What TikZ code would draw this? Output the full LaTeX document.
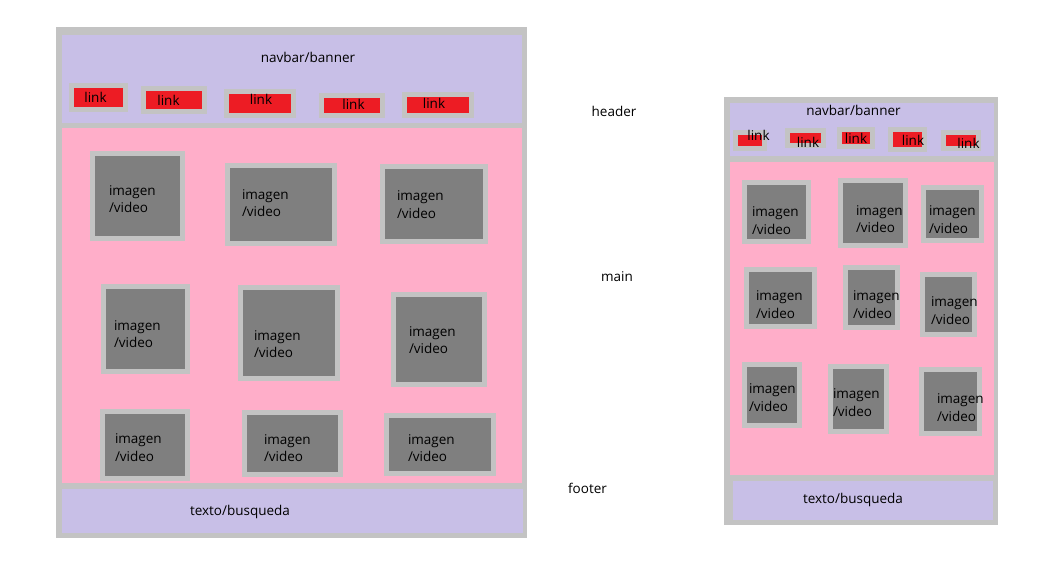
\documentclass[tikz,border=0pt]{standalone}
\usepackage{fontspec}
\setmainfont{Open Sans}
\definecolor{framegrey}{HTML}{C3C3C3}
\definecolor{lavender}{HTML}{C8BFE7}
\definecolor{pinkarea}{HTML}{FFAEC9}
\definecolor{imggrey}{HTML}{7F7F7F}
\definecolor{linkred}{HTML}{ED1C24}
\tikzset{
  txt/.style={inner sep=0pt,outer sep=0pt,text=black,font=\fontsize{13.5}{17.5}\selectfont},
  imgbox/.style={rectangle,fill=imggrey,draw=framegrey,line width=5pt,inner sep=0pt,outer sep=0pt},
  linkbox/.style={rectangle,fill=linkred,draw=framegrey,line width=5pt,inner sep=0pt,outer sep=0pt},
  imgtext/.style={txt,anchor=west,align=left},
}
\begin{document}
\begin{tikzpicture}[x=1pt,y=-1pt]
\useasboundingbox (0,0) rectangle (1059,560);

% wide layout
\fill[framegrey] (56,27) rectangle (527,538);
\fill[lavender] (62,35) rectangle (522,123);
\fill[pinkarea] (62,128) rectangle (522,483);
\fill[lavender] (62,489) rectangle (523,533);

\node[txt] (nav) at (308,57) {navbar/banner};
\node[txt] (foot) at (240,512) {texto/busqueda};

\node[linkbox,minimum width=54,minimum height=24] (l1) at (98.5,97.5) {};
\node[linkbox,minimum width=61,minimum height=23] (l2) at (174,100) {};
\node[linkbox,minimum width=67,minimum height=24] (l3) at (260,103.5) {};
\node[linkbox,minimum width=61,minimum height=20] (l4) at (352,105.5) {};
\node[linkbox,minimum width=67,minimum height=21] (l5) at (438,105) {};
\node[txt] (l1t) at (95.5,97) {link};
\node[txt] (l2t) at (168.5,100) {link};
\node[txt] (l3t) at (261,99.5) {link};
\node[txt] (l4t) at (353.5,104) {link};
\node[txt] (l5t) at (434,103.5) {link};

\node[imgbox,minimum width=90,minimum height=85] (b1) at (137.5,196) {};
\node[imgbox,minimum width=107,minimum height=78] (b2) at (281,204.5) {};
\node[imgbox,minimum width=103,minimum height=75] (b3) at (434,204) {};
\node[imgbox,minimum width=84,minimum height=85] (b4) at (145.5,329) {};
\node[imgbox,minimum width=97,minimum height=91] (b5) at (289,333) {};
\node[imgbox,minimum width=91,minimum height=90] (b6) at (439,339.5) {};
\node[imgbox,minimum width=85,minimum height=67] (b7) at (145,445) {};
\node[imgbox,minimum width=96,minimum height=62] (b8) at (292.5,443.5) {};
\node[imgbox,minimum width=107,minimum height=58] (b9) at (440,444.5) {};

\node[imgtext] (b1t) at (109,199) {imagen\\/video};
\node[imgtext] (b2t) at (242,203) {imagen\\/video};
\node[imgtext] (b3t) at (397,204.5) {imagen\\/video};
\node[imgtext] (b4t) at (114,334) {imagen\\/video};
\node[imgtext] (b5t) at (254,344) {imagen\\/video};
\node[imgtext] (b6t) at (409,340) {imagen\\/video};
\node[imgtext] (b7t) at (115,447.5) {imagen\\/video};
\node[imgtext] (b8t) at (264,448) {imagen\\/video};
\node[imgtext] (b9t) at (408,448) {imagen\\/video};

% section names
\node[txt] (hdr) at (614,111) {header};
\node[txt] (mn) at (617,277) {main};
\node[txt] (ftr) at (587.5,488) {footer};

% narrow layout
\fill[framegrey] (724,97) rectangle (998,525);
\fill[lavender] (730,103) rectangle (994,156);
\fill[pinkarea] (730,162) rectangle (994,475);
\fill[lavender] (733,481) rectangle (993,520);

\node[txt] (rnav) at (853.5,110) {navbar/banner};
\node[txt] (rfoot) at (853,500) {texto/busqueda};

\node[linkbox,minimum width=29,minimum height=16] (rl1) at (750,140.5) {};
\node[linkbox,minimum width=36,minimum height=15] (rl2) at (805.5,138) {};
\node[linkbox,minimum width=33,minimum height=17] (rl3) at (856,138) {};
\node[linkbox,minimum width=34,minimum height=20] (rl4) at (907.5,139.5) {};
\node[linkbox,minimum width=35,minimum height=16] (rl5) at (961,140.5) {};
\node[txt] (rl1t) at (758.5,135) {link};
\node[txt] (rl2t) at (808,142) {link};
\node[txt] (rl3t) at (856,138) {link};
\node[txt] (rl4t) at (913,140) {link};
\node[txt] (rl5t) at (968.5,143) {link};

\node[imgbox,minimum width=64,minimum height=59] (r1) at (776.5,212) {};
\node[imgbox,minimum width=65,minimum height=65] (r2) at (873,213) {};
\node[imgbox,minimum width=58,minimum height=53] (r3) at (952.5,214) {};
\node[imgbox,minimum width=68,minimum height=57] (r4) at (780.5,298) {};
\node[imgbox,minimum width=52,minimum height=60] (r5) at (871.5,297.5) {};
\node[imgbox,minimum width=52,minimum height=60] (r6) at (948.5,304.5) {};
\node[imgbox,minimum width=55,minimum height=61] (r7) at (772,395) {};
\node[imgbox,minimum width=56,minimum height=65] (r8) at (858.5,399) {};
\node[imgbox,minimum width=58,minimum height=64] (r9) at (950.5,401.5) {};

\node[imgtext] (r1t) at (752,220.5) {imagen\\/video};
\node[imgtext] (r2t) at (856,219) {imagen\\/video};
\node[imgtext] (r3t) at (929,219.5) {imagen\\/video};
\node[imgtext] (r4t) at (756,304.5) {imagen\\/video};
\node[imgtext] (r5t) at (853,304.5) {imagen\\/video};
\node[imgtext] (r6t) at (931,310.5) {imagen\\/video};
\node[imgtext] (r7t) at (749,397.5) {imagen\\/video};
\node[imgtext] (r8t) at (833,402.5) {imagen\\/video};
\node[imgtext] (r9t) at (937,407.5) {imagen\\/video};

\end{tikzpicture}
\end{document}
